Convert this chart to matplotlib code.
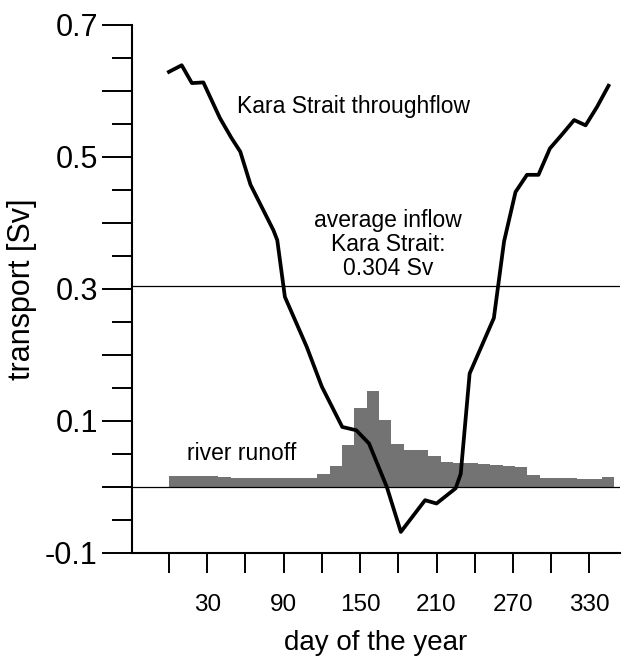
import numpy as np
import matplotlib
matplotlib.use('Agg')
import matplotlib.pyplot as plt

plt.rcParams['font.family'] = ['Liberation Sans', 'DejaVu Sans']

# Kara Strait throughflow (Sv) vs day of year
day = [0, 10, 18, 27, 40, 49, 56, 64, 82, 85, 91, 108, 120, 136, 147, 157,
       171, 182, 201, 210, 225, 229, 236, 255, 263, 272, 281, 290, 299, 308,
       318, 327, 336, 345]
flow = [0.629, 0.639, 0.612, 0.613, 0.559, 0.529, 0.508, 0.458, 0.389, 0.374,
        0.288, 0.213, 0.152, 0.091, 0.086, 0.066, 0.0, -0.068, -0.020, -0.025,
        -0.002, 0.020, 0.172, 0.256, 0.372, 0.447, 0.473, 0.473, 0.513, 0.533,
        0.556, 0.548, 0.576, 0.608]

# river runoff (Sv), one value per ~10 day period
runoff = [0.016, 0.017, 0.016, 0.016, 0.015, 0.014, 0.013, 0.013, 0.013, 0.014,
          0.014, 0.013, 0.020, 0.032, 0.063, 0.119, 0.146, 0.101, 0.065, 0.056,
          0.056, 0.047, 0.038, 0.037, 0.036, 0.035, 0.034, 0.032, 0.030, 0.018,
          0.014, 0.014, 0.013, 0.012, 0.012, 0.015]
period = 9.7
mean_inflow = 0.304

xticks = np.arange(0, 331, 30)
xlabels = ['' if t % 60 == 0 else str(t) for t in xticks]
yticks = [-0.1, 0.0, 0.1, 0.2, 0.3, 0.4, 0.5, 0.6, 0.7]
ylabels = ['-0.1', '', '0.1', '', '0.3', '', '0.5', '', '0.7']

fig = plt.figure(figsize=(6.27, 6.57), dpi=100)
ax = fig.add_axes([132/627, 104/657, 488/627, 528/657])

edges = np.arange(len(runoff)) * period
ax.bar(edges, runoff, width=period, align='edge', color='#737373', linewidth=0)
ax.axhline(0, color='black', lw=0.9)
ax.axhline(mean_inflow, color='black', lw=0.9)
ax.plot(day, flow, color='black', lw=2.7)

ax.text(145, 0.577, 'Kara Strait throughflow', fontsize=16.5, ha='center', va='center')
ax.text(172, 0.367, 'average inflow\nKara Strait:\n%.3f Sv' % mean_inflow,
        fontsize=16.5, ha='center', va='center', linespacing=1.05)
ax.text(57, 0.05, 'river runoff', fontsize=16.5, ha='center', va='center')

ax.set_xlim(-29, 354)
ax.set_ylim(-0.1, 0.7)
for s in ['top', 'right']:
    ax.spines[s].set_visible(False)
for s in ['left', 'bottom']:
    ax.spines[s].set_linewidth(1.5)

ax.set_xticks(xticks)
ax.set_xticklabels(xlabels, fontsize=17.5)
ax.set_yticks(yticks)
ax.set_yticklabels(ylabels, fontsize=22)
ax.set_yticks(np.arange(-0.05, 0.7, 0.1), minor=True)
ax.tick_params(axis='x', direction='out', length=14.4, width=1.4, pad=15)
ax.tick_params(axis='y', which='major', direction='out', length=21.6, width=1.4, pad=3)
ax.tick_params(axis='y', which='minor', direction='out', length=14.4, width=1.4)

ax.set_xlabel('day of the year', fontsize=20, labelpad=10)
ax.set_ylabel('transport [Sv]', fontsize=22, labelpad=6)

fig.savefig('out.png', dpi=100)
